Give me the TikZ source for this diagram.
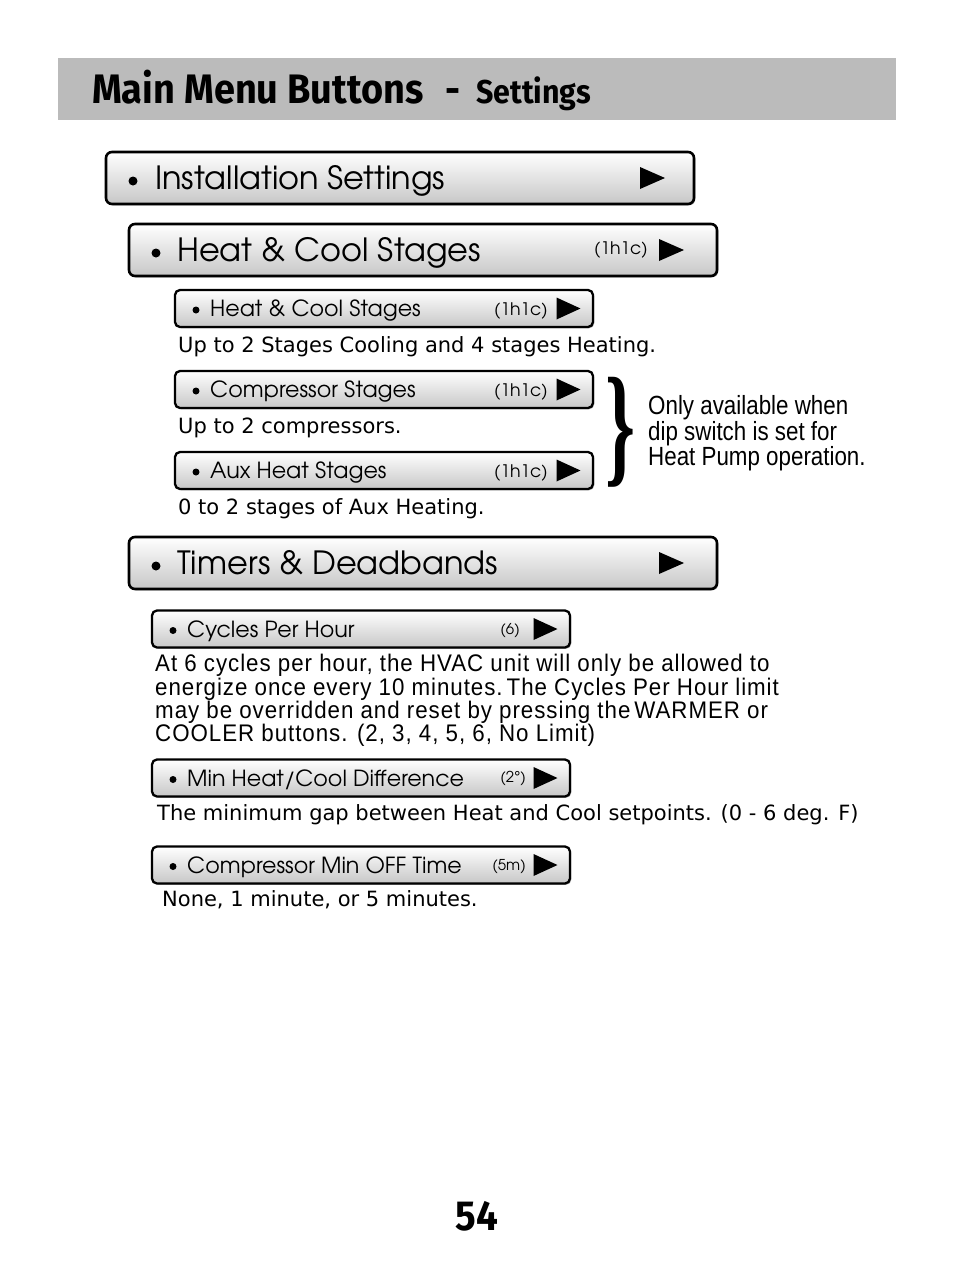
\documentclass[tikz,border=0pt]{standalone}
\usepackage{fontspec}
\usepackage{graphicx}
\usetikzlibrary{shadows}
\newfontfamily\adv{texgyreadventor-regular.otf}
\newfontfamily\dv{DejaVu Sans}
\newfontfamily\cond{Liberation Sans}[FakeStretch=0.85]
\newfontfamily\paraf{Liberation Sans}[FakeStretch=0.93,LetterSpace=4]
\newfontfamily\hd{Fira Sans}[FakeStretch=0.92]
\newfontfamily\serifb{Liberation Serif}
\definecolor{hdrgray}{RGB}{187,187,187}
\tikzset{
  btn/.style={draw=black, rounded corners=6pt, top color=white, bottom color=black!22,
    drop shadow={shadow xshift=1.3pt, shadow yshift=-1.3pt, opacity=0.55}, inner sep=0pt},
  bigbtn/.style={btn, line width=2.6pt, minimum width=588pt, minimum height=52pt},
  smallbtn/.style={btn, line width=2.3pt, rounded corners=5pt, minimum width=418pt, minimum height=37pt},
  bigtxt/.style={anchor=base west, inner sep=0pt, font=\adv\fontsize{32}{38}\selectfont},
  smalltxt/.style={anchor=base west, inner sep=0pt, font=\adv\fontsize{22.2}{26}\selectfont},
  codetxt/.style={anchor=base east, inner sep=0pt, font=\adv\fontsize{17.3}{20}\selectfont},
  tinycode/.style={anchor=base east, inner sep=0pt, font=\adv\fontsize{15}{18}\selectfont},
  desc/.style={anchor=base west, inner sep=0pt, font=\dv\fontsize{21}{24}\selectfont},
  para/.style={anchor=base west, inner sep=0pt, font=\paraf\fontsize{24}{24}\selectfont},
  note/.style={anchor=base west, inner sep=0pt, font=\cond\fontsize{26.3}{26}\selectfont},
  bigtri/.pic={\fill (-12.5,11) -- (12.5,0) -- (-12.5,-11) -- cycle;},
  smalltri/.pic={\fill (-12,11) -- (12,0) -- (-12,-11) -- cycle;},
}
\begin{document}
\begin{tikzpicture}[x=1pt,y=1pt]
\useasboundingbox (0,0) rectangle (954,-1272);
\fill[white] (0,0) rectangle (954,-1272);
% header
\fill[hdrgray] (58,-58) rectangle (896,-120);
\node[anchor=base west, inner sep=0pt, font=\hd\bfseries\fontsize{41.2}{44}\selectfont] (title) at (92,-103) {Main Menu Buttons};
\node[anchor=base west, inner sep=0pt, font=\hd\bfseries\fontsize{40}{44}\selectfont] (dash) at (445,-103) {-};
\node[anchor=base west, inner sep=0pt, font=\hd\bfseries\fontsize{33}{36}\selectfont] (sub) at (476,-103) {Settings};

% buttons
\node[bigbtn] (b1) at (400,-178) {};
\fill (133,-181) circle (4.5);
\node[bigtxt] (t1) at (155,-189.5) {Installation Settings};
\pic at (652.5,-178) {bigtri};

\node[bigbtn] (b2) at (423,-250) {};
\fill (156,-253) circle (4.5);
\node[bigtxt] (t2) at (177,-261.5) {Heat \& Cool Stages};
\node[codetxt] (c2) at (648,-254.5) {(1h1c)};
\pic at (671.5,-250) {bigtri};

\node[smallbtn] (b3) at (384,-308.5) {};
\fill (196,-310) circle (3.5);
\node[smalltxt] (t3) at (210,-316.5) {Heat \& Cool Stages};
\node[codetxt] (c3) at (548,-315) {(1h1c)};
\pic at (568.5,-308.5) {smalltri};
\node[desc] (d3) at (178,-352) {Up to 2 Stages Cooling and 4 stages Heating.};

\node[smallbtn] (b4) at (384,-389.5) {};
\fill (196,-391) circle (3.5);
\node[smalltxt] (t4) at (210,-397.5) {Compressor Stages};
\node[codetxt] (c4) at (548,-396) {(1h1c)};
\pic at (568.5,-389.5) {smalltri};
\node[desc] (d4) at (178,-433) {Up to 2 compressors.};

\node[smallbtn] (b5) at (384,-470.5) {};
\fill (196,-472) circle (3.5);
\node[smalltxt] (t5) at (210,-478.5) {Aux Heat Stages};
\node[codetxt] (c5) at (548,-477) {(1h1c)};
\pic at (568.5,-470.5) {smalltri};
\node[desc] (d5) at (178,-514) {0 to 2 stages of Aux Heating.};

% brace and note
\node[inner sep=0pt] (brace) at (620,-432.5) {\resizebox*{30pt}{110pt}{\serifb\bfseries\}}};
\node[note] (n1) at (648,-414) {Only available when};
\node[note] (n2) at (648,-440) {dip switch is set for};
\node[note] (n3) at (648,-465) {Heat Pump operation.};

\node[bigbtn] (b6) at (423,-563) {};
\fill (156,-566) circle (4.5);
\node[bigtxt] (t6) at (177,-574.5) {Timers \& Deadbands};
\pic at (671.5,-563) {bigtri};

\node[smallbtn] (b7) at (361,-629) {};
\fill (173,-630.5) circle (3.5);
\node[smalltxt] (t7) at (187,-637) {Cycles Per Hour};
\node[tinycode] (c7) at (520,-634) {(6)};
\pic at (545.5,-629) {smalltri};
\node[para] (p1) at (155,-671) {At 6 cycles per hour, the HVAC unit will only be allowed to};
\node[para] (p2) at (155,-695) {energize once every 10 minutes.\,The Cycles Per Hour limit};
\node[para] (p3) at (155,-718) {may be overridden and reset by pressing the\,WARMER or};
\node[para] (p4) at (155,-741) {COOLER buttons. (2, 3, 4, 5, 6, No Limit)};

\node[smallbtn] (b8) at (361,-778) {};
\fill (173,-779.5) circle (3.5);
\node[smalltxt] (t8) at (187,-786) {Min Heat/Cool Difference};
\node[tinycode] (c8) at (526,-782) {(2\textdegree)};
\pic at (545.5,-778) {smalltri};
\node[desc] (d8) at (157,-820) {The minimum gap between Heat and Cool setpoints. (0 - 6 deg. F)};

\node[smallbtn] (b9) at (361,-865) {};
\fill (173,-866.5) circle (3.5);
\node[smalltxt] (t9) at (187,-873) {Compressor Min OFF Time};
\node[tinycode] (c9) at (526,-870) {(5m)};
\pic at (545.5,-865) {smalltri};
\node[desc] (d9) at (162,-906) {None, 1 minute, or 5 minutes.};

% page number
\node[anchor=base, inner sep=0pt, font=\hd\bfseries\fontsize{42}{46}\selectfont] (pg) at (477,-1230) {54};
\end{tikzpicture}
\end{document}
